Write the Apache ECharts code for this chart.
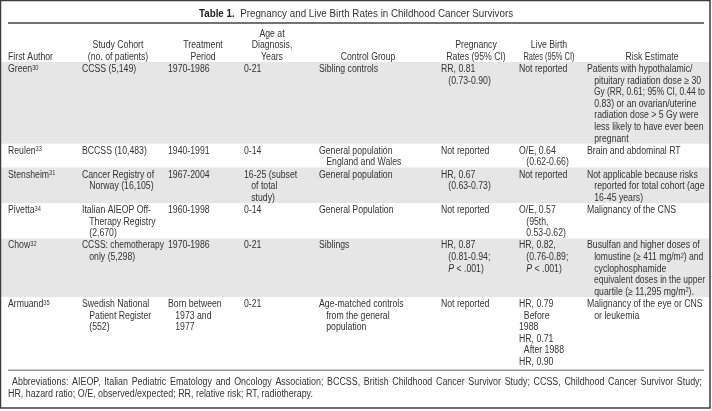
<!DOCTYPE html>
<html><head><meta charset="utf-8">
<script src="https://cdn.jsdelivr.net/npm/echarts@6/dist/echarts.min.js"></script>
<style>html,body{margin:0;padding:0;background:#fff}#c{width:712px;height:411px}</style>
</head><body><div id="c"></div>
<script>
// ---- table content ----
const titleBold = 'Table 1.';
const titleText = 'Pregnancy and Live Birth Rates in Childhood Cancer Survivors';
const headers = [
  ['First Author'],
  ['Study Cohort', '(no. of patients)'],
  ['Treatment', 'Period'],
  ['Age at', 'Diagnosis,', 'Years'],
  ['Control Group'],
  ['Pregnancy', 'Rates (95% CI)'],
  ['Live Birth', 'Rates (95% CI)'],
  ['Risk Estimate']
];
const authors = ['Green', 'Reulen', 'Stensheim', 'Pivetta', 'Chow', 'Armuand'];
const refs = ['30', '33', '31', '34', '32', '35'];
const cohorts = [
  ['CCSS (5,149)'],
  ['BCCSS (10,483)'],
  ['Cancer Registry of', '   Norway (16,105)'],
  ['Italian AIEOP Off-', '   Therapy Registry', '   (2,670)'],
  ['CCSS: chemotherapy', '   only (5,298)'],
  ['Swedish National', '   Patient Register', '   (552)']
];
const periods = [
  ['1970-1986'], ['1940-1991'], ['1967-2004'], ['1960-1998'], ['1970-1986'],
  ['Born between', '   1973 and', '   1977']
];
const ages = [
  ['0-21'], ['0-14'], ['16-25 (subset', '   of total', '   study)'], ['0-14'], ['0-21'], ['0-21']
];
const controls = [
  ['Sibling controls'],
  ['General population', '   England and Wales'],
  ['General population'],
  ['General Population'],
  ['Siblings'],
  ['Age-matched controls', '   from the general', '   population']
];
const pregnancy = [
  ['RR, 0.81', '   (0.73-0.90)'],
  ['Not reported'],
  ['HR, 0.67', '   (0.63-0.73)'],
  ['Not reported'],
  ['HR, 0.87', '   (0.81-0.94;', '   {i|P} < .001)'],
  ['Not reported']
];
const liveBirth = [
  ['Not reported'],
  ['O/E, 0.64', '   (0.62-0.66)'],
  ['Not reported'],
  ['O/E, 0.57', '   (95th,', '   0.53-0.62)'],
  ['HR, 0.82,', '   (0.76-0.89;', '   {i|P} < .001)'],
  ['HR, 0.79', '  Before', '1988', 'HR, 0.71', '  After 1988', 'HR, 0.90']
];
const risks = [
  ['Patients with hypothalamic/', '   pituitary radiation dose \u2265 30', '   Gy (RR, 0.61; 95% CI, 0.44 to',
   '   0.83) or an ovarian/uterine', '   radiation dose > 5 Gy were', '   less likely to have ever been', '   pregnant'],
  ['Brain and abdominal RT'],
  ['Not applicable because risks', '   reported for total cohort (age', '   16-45 years)'],
  ['Malignancy of the CNS'],
  ['Busulfan and higher doses of', '   lomustine (\u2265 411 mg/m{s|2}) and', '   cyclophosphamide',
   '   equivalent doses in the upper', '   quartile (\u2265 11,295 mg/m{s|2}).'],
  ['Malignancy of the eye or CNS', '   or leukemia']
];
const footnote = [
  'Abbreviations: AIEOP, Italian Pediatric Ematology and Oncology Association; BCCSS, British Childhood Cancer Survivor Study; CCSS, Childhood Cancer Survivor Study;',
  'HR, hazard ratio; O/E, observed/expected; RR, relative risk; RT, radiotherapy.'
];

(function () {
  // ---- layout / style ----
  const W = 712, H = 411;
  const FONT = 'Liberation Sans';
  const FS = 10;
  const SX = 0.87;            // condensed face
  const FOOT_SX = 0.89;
  const TXT = '#343434';
  const colX = [8, 82, 168, 244, 319, 441, 519, 587];
  const colEnd = 705;
  const headCX = [null, 118, 203, 272, 368, 476, 549, 652];
  const HEAD_LAST = 57, HEAD_LH = 11.5;
  const TABLE_TOP = 62, LH = 11.6, ROW_PAD = 0.6;
  const shaded = [true, false, true, false, true, false];

  const mctx = document.createElement('canvas').getContext('2d');
  function measure(s, fs, bold) {
    mctx.font = (bold ? 'bold ' : '') + fs + 'px "' + FONT + '"';
    return mctx.measureText(s.replace(/\{(\w)\|([^}]*)\}/g, '$2')).width;
  }

  const rich = {
    s: { fontSize: 6.5, fontFamily: FONT, fill: TXT, verticalAlign: 'top', lineHeight: 5 },
    i: { fontSize: FS, fontFamily: FONT, fill: TXT, fontStyle: 'italic' },
    b: { fontSize: FS, fontFamily: FONT, fill: '#222', fontWeight: 'bold' }
  };
  function txt(x, y, s, align, fs, sx, maxW) {
    fs = fs || FS;
    if (sx == null) sx = SX;
    if (maxW) {
      const w = measure(s, fs) * sx;
      if (w > maxW) sx = sx * maxW / w;
    }
    return {
      type: 'text', x: x, y: y, scaleX: sx, silent: true,
      style: { text: s, fill: TXT, fontSize: fs, fontFamily: FONT,
        align: align || 'left', verticalAlign: 'middle', rich: rich }
    };
  }

  const els = [];
  els.push({ type: 'rect', shape: { x: 0.5, y: 0.5, width: 709.5, height: 407.5 },
    style: { fill: 'none', stroke: '#3c3c3c', lineWidth: 1.5 }, silent: true, z: 10 });

  els.push(txt(W / 2, 14, '{b|' + titleBold + '}  ' + titleText, 'center', FS, 0.98));
  els.push({ type: 'line', shape: { x1: 8, y1: 23, x2: 704, y2: 23 }, style: { stroke: '#444', lineWidth: 1.3 }, silent: true });

  headers.forEach((h, c) => {
    h.forEach((line, k) => {
      const y = HEAD_LAST - (h.length - 1 - k) * HEAD_LH;
      const sx = (c === 6 && k === 1) ? SX * 0.86 : SX;
      if (headCX[c] == null) els.push(txt(colX[c], y, line, 'left', FS, sx));
      else els.push(txt(headCX[c], y, line, 'center', FS, sx));
    });
  });

  const columns = [null, cohorts, periods, ages, controls, pregnancy, liveBirth, risks];
  let rowTop = TABLE_TOP;
  authors.forEach((a, i) => {
    let n = 1;
    columns.forEach(col => { if (col) n = Math.max(n, col[i].length); });
    const h = n * LH + ROW_PAD;
    if (shaded[i]) {
      els.push({ type: 'rect', shape: { x: 1.25, y: rowTop, width: 708.5, height: h },
        style: { fill: '#e6e6e6' }, silent: true, z: -1 });
    }
    const y0 = rowTop;
    const yLine = k => y0 + 1.5 + LH * (k + 0.5);
    els.push(txt(colX[0], yLine(0), a + '{s|' + refs[i] + '}'));
    columns.forEach((col, c) => {
      if (!col) return;
      const maxW = (c < colX.length - 1 ? colX[c + 1] - 4 : colEnd) - colX[c];
      col[i].forEach((line, k) => els.push(txt(colX[c], yLine(k), line, 'left', FS, SX, maxW)));
    });
    rowTop += h;
  });

  const ruleY = rowTop + 3;
  els.push({ type: 'line', shape: { x1: 8, y1: ruleY, x2: 704, y2: ruleY }, style: { stroke: '#666', lineWidth: 1 }, silent: true });

  // footnote: first line justified, second line natural
  const fy = k => ruleY + 12 + k * 11.6;
  (function justify(line, x0, x1, y) {
    const words = line.split(' ');
    const ws = words.map(w => measure(w, FS) * FOOT_SX);
    let gap = (x1 - x0 - ws.reduce((p, q) => p + q, 0)) / (words.length - 1);
    let sx = FOOT_SX;
    if (gap < 2) { // too long: condense instead
      const tot = ws.reduce((p, q) => p + q, 0) + 2 * (words.length - 1);
      sx = FOOT_SX * (x1 - x0 - 2 * (words.length - 1)) / (tot - 2 * (words.length - 1));
      for (let j = 0; j < ws.length; j++) ws[j] = ws[j] * sx / FOOT_SX;
      gap = 2;
    }
    let x = x0;
    words.forEach((w, j) => { els.push(txt(x, y, w, 'left', FS, sx)); x += ws[j] + gap; });
  })(footnote[0], 12, 702, fy(0));
  els.push(txt(8, fy(1), footnote[1], 'left', FS, FOOT_SX));

  const chart = echarts.init(document.getElementById('c'), null, { renderer: 'canvas', width: W, height: H });
  chart.setOption({ backgroundColor: '#fff', animation: false, graphic: { elements: els } });
})();
</script>
</body></html>
